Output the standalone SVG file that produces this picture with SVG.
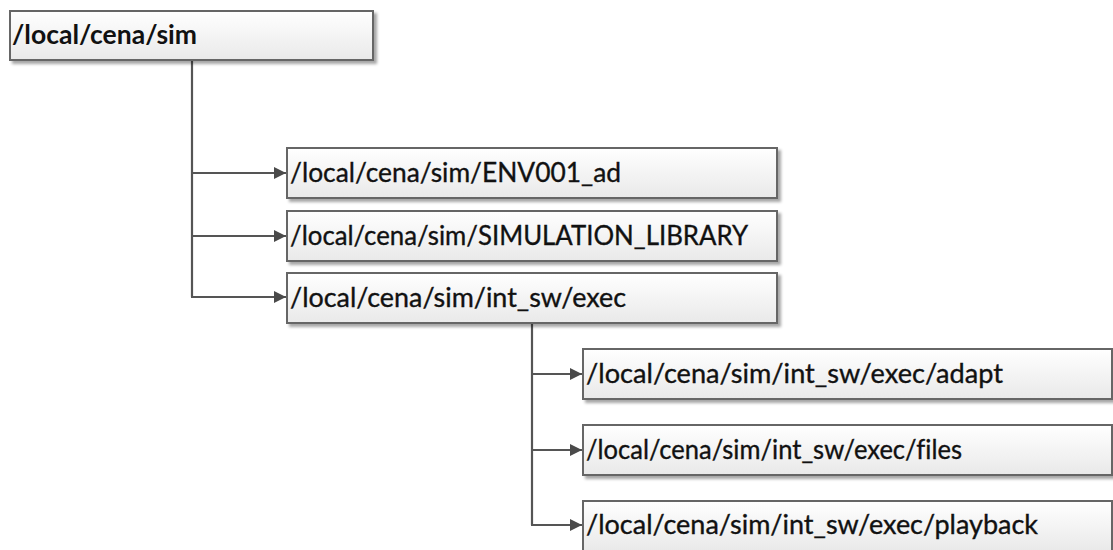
<svg xmlns="http://www.w3.org/2000/svg" width="1113" height="550" viewBox="0 0 1113 550">
  <defs>
    <linearGradient id="boxFill" x1="0" y1="0" x2="0" y2="1">
      <stop offset="0" stop-color="#ffffff"/>
      <stop offset="1" stop-color="#e9e9e9"/>
    </linearGradient>
    <filter id="shadow" x="-5%" y="-20%" width="115%" height="160%">
      <feDropShadow dx="3" dy="3" stdDeviation="1.8" flood-color="#000" flood-opacity="0.35"/>
    </filter>
    <marker id="arrow" viewBox="0 0 12 12" refX="12" refY="6" markerWidth="12" markerHeight="12" markerUnits="userSpaceOnUse" orient="auto">
      <path d="M0,0 L12,6 L0,12 z" fill="#4a4a4a"/>
    </marker>
  </defs>
  <style>
    .box { fill: url(#boxFill); stroke: #666666; stroke-width: 2; filter: url(#shadow); }
    .label { font-family: Lato, "Liberation Sans", sans-serif; font-size: 27px; fill: #111111; stroke: #111111; stroke-width: 0.35; font-variant-ligatures: none; }
    .root { font-weight: bold; stroke-width: 0; }
    .conn { fill: none; stroke: #555555; stroke-width: 2.2; }
    .arr { marker-end: url(#arrow); }
  </style>

  <g id="connectors">
    <path class="conn" d="M192,60 V297"/>
    <path class="conn arr" d="M192,173 H286"/>
    <path class="conn arr" d="M192,236 H286"/>
    <path class="conn arr" d="M191,297 H286"/>
    <path class="conn" d="M532,323 V525"/>
    <path class="conn arr" d="M532,374 H582"/>
    <path class="conn arr" d="M532,450 H582"/>
    <path class="conn arr" d="M531,525 H582"/>
  </g>

  <g id="node-sim">
    <rect class="box" x="10" y="11" width="363" height="49"/>
    <text class="label root" x="12" y="44" textLength="185" lengthAdjust="spacingAndGlyphs">/local/cena/sim</text>
  </g>
  <g id="node-env001">
    <rect class="box" x="287" y="148" width="490" height="50"/>
    <text class="label" x="290" y="182" textLength="331" lengthAdjust="spacingAndGlyphs">/local/cena/sim/ENV001_ad</text>
  </g>
  <g id="node-simlib">
    <rect class="box" x="287" y="211" width="490" height="50"/>
    <text class="label" x="290" y="245" textLength="458" lengthAdjust="spacingAndGlyphs">/local/cena/sim/SIMULATION_LIBRARY</text>
  </g>
  <g id="node-exec">
    <rect class="box" x="287" y="273" width="490" height="50"/>
    <text class="label" x="290" y="307" textLength="336" lengthAdjust="spacingAndGlyphs">/local/cena/sim/int_sw/exec</text>
  </g>
  <g id="node-adapt">
    <rect class="box" x="583" y="349" width="529" height="50"/>
    <text class="label" x="586" y="383" textLength="417" lengthAdjust="spacingAndGlyphs">/local/cena/sim/int_sw/exec/adapt</text>
  </g>
  <g id="node-files">
    <rect class="box" x="583" y="425" width="529" height="50"/>
    <text class="label" x="586" y="459" textLength="376" lengthAdjust="spacingAndGlyphs">/local/cena/sim/int_sw/exec/files</text>
  </g>
  <g id="node-playback">
    <rect class="box" x="583" y="501" width="529" height="50"/>
    <text class="label" x="586" y="534" textLength="452" lengthAdjust="spacingAndGlyphs">/local/cena/sim/int_sw/exec/playback</text>
  </g>
</svg>
